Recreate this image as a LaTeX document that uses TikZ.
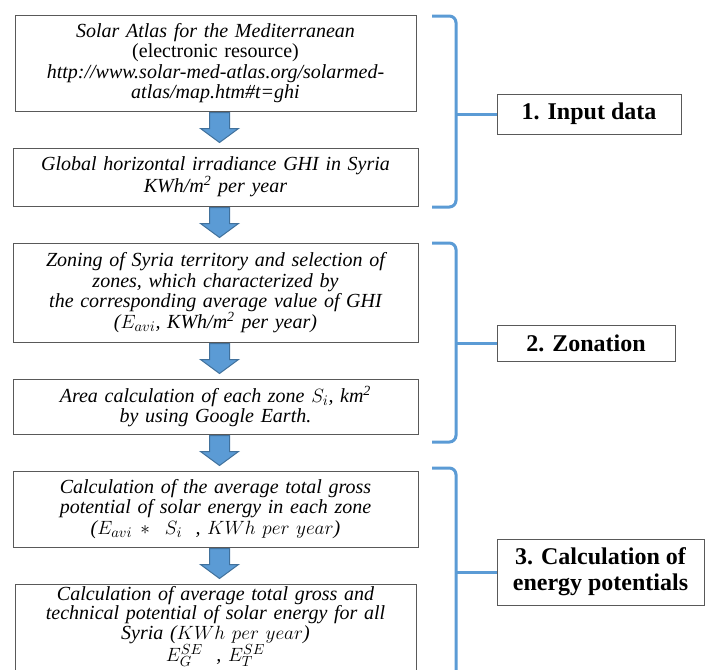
\documentclass[tikz,border=0pt]{standalone}
\usepackage{fontspec}
\setmainfont{Liberation Serif}
\usetikzlibrary{positioning,calc}
\definecolor{atlasblue}{HTML}{5B9BD5}
\definecolor{atlasedge}{HTML}{41719C}
\definecolor{boxgray}{HTML}{595959}

% block arrow from one box down to the next
\newcommand{\flowarrow}[2]{%
  \filldraw[flowarr] ($(#1.south)+(-6,1)$) -- ++(0,16) -- ++(-9,0)
    -- ($(#1.south |- #2.north)+(4,-5)$) -- ($(#1.south)+(23,17)$)
    -- ++(-9,0) -- ++(0,-16) -- cycle;}

\begin{document}
\begin{tikzpicture}[x=0.75pt, y=-0.75pt, node distance=27pt,
    flowbox/.style={draw=boxgray, line width=0.75pt, text width=298pt, inner xsep=0pt,
      minimum width=303.75pt, align=center, font=\fontsize{15}{15.4}\selectfont\itshape},
    phasebox/.style={draw=boxgray, line width=0.75pt, inner sep=0pt, align=center,
      font=\fontsize{18}{19.5}\selectfont\bfseries},
    flowarr/.style={fill=atlasblue, draw=atlasedge, line width=0.75pt},
    brace/.style={draw=atlasblue, line width=2.25pt, rounded corners=5pt}]
  \useasboundingbox (0,0) rectangle (705,669);
  \clip (0,0) rectangle (705,669);

  % steps
  \node[flowbox, minimum width=300.75pt, minimum height=72pt] (atlas) at (215.5,63)
    {Solar Atlas for the Mediterranean\\ {\upshape(electronic resource)}\\
     http://www.solar-med-atlas.org/solarmed-\\ atlas/map.htm\#t=ghi};
  \node[flowbox, minimum height=43.5pt, below=of atlas] (ghi)
    {Global horizontal irradiance GHI in Syria\\ KWh/m\textsuperscript{2} per year};
  \node[flowbox, minimum height=74.25pt, below=of ghi] (zoning)
    {Zoning of Syria territory and selection of\\ zones, which characterized by\\
     the corresponding average value of GHI\\ ($E_{avi}$, KWh/m\textsuperscript{2} per year)};
  \node[flowbox, minimum height=41.25pt, below=of zoning] (area)
    {Area calculation of each zone $S_i$, km\textsuperscript{2}\\ by using Google Earth.};
  \node[flowbox, minimum height=57pt, below=of area] (zonepot)
    {Calculation of the average total gross\\ potential of solar energy in each zone\\
     ($E_{avi} *\ S_i$\ \ , $KWh\ per\ year$)};
  \node[flowbox, minimum width=300.75pt, inner ysep=1.5pt, below=of zonepot,
    font=\fontsize{15}{14.6}\selectfont\itshape] (totalpot)
    {Calculation of average total gross and\\ technical potential of solar energy for all\\
     Syria ($KWh\ per\ year$)\\ $E_G^{SE}$\ \ , $E_T^{SE}$\rule[-20pt]{0pt}{20pt}};

  \flowarrow{atlas}{ghi}
  \flowarrow{ghi}{zoning}
  \flowarrow{zoning}{area}
  \flowarrow{area}{zonepot}
  \flowarrow{zonepot}{totalpot}

  % phases
  \node[phasebox, minimum width=138pt, minimum height=30pt] (input) at (589,114) {1. Input data};
  \node[phasebox, minimum width=133.5pt, minimum height=27pt] (zonation) at (586,343) {2. Zonation};
  \node[phasebox, minimum width=155.25pt, minimum height=49.5pt] (energy) at (600.5,572)
    {3. Calculation of\\ energy potentials};

  \draw[brace] (432,16) -| (456,207) -- (432,207);
  \draw[brace] (432,243) -| (456,442) -- (432,442);
  \draw[brace] (432,468) -| (456,700);
  \coordinate (tip1) at (456,114);
  \coordinate (tip2) at (456,343);
  \coordinate (tip3) at (456,572);
  \draw[brace] (tip1) -- (input);
  \draw[brace] (tip2) -- (zonation);
  \draw[brace] (tip3) -- (energy);
\end{tikzpicture}
\end{document}
